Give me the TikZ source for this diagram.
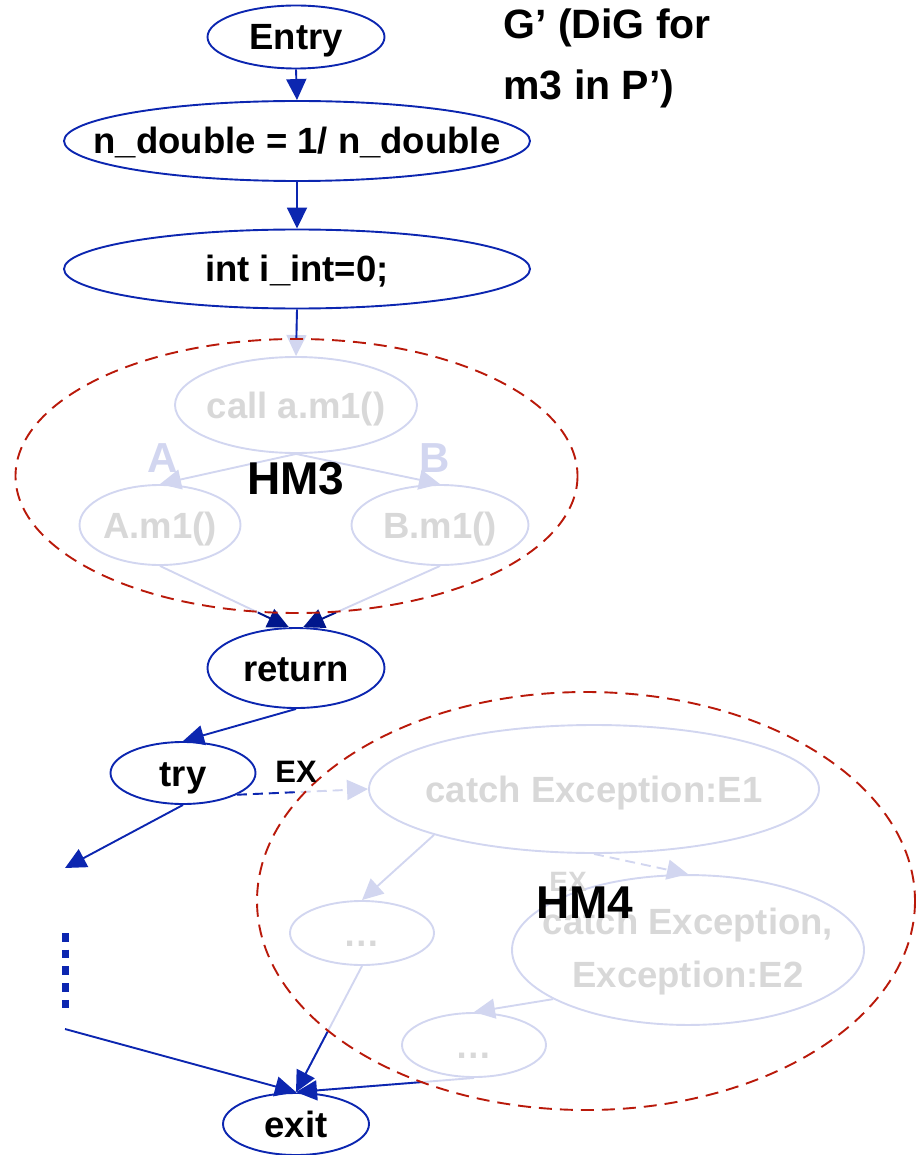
\documentclass[tikz,border=0pt]{standalone}
\usepackage{fontspec}
\setmainfont{Liberation Sans}
\usetikzlibrary{shapes.geometric,arrows.meta,calc}

\definecolor{lineblue}{RGB}{12,38,176}
\definecolor{navyblue}{RGB}{0,22,140}
\definecolor{paleline}{RGB}{210,214,240}
\definecolor{paletext}{RGB}{216,216,216}
\definecolor{hmred}{RGB}{185,25,10}

\begin{document}
\begin{tikzpicture}[x=1pt,y=-1pt,
  bigtext/.style={font=\fontsize{36.5}{53}\selectfont\bfseries},
  capline/.style={text height=26pt, text depth=0pt},
  stmtnode/.style={ellipse, draw=lineblue, line width=1.9pt, inner sep=0pt, bigtext, capline},
  ghostbase/.style={ellipse, draw=paleline, line width=1.9pt, inner sep=0pt, bigtext, text=paletext},
  ghostnode/.style={ghostbase, capline},
  tipshape/.style={-{Triangle[length=21pt,width=20pt]}},
  flowarrow/.style={draw=lineblue, line width=1.9pt, tipshape},
  navyarrow/.style={draw=navyblue, line width=1.9pt, tipshape},
  blueseg/.style={draw=lineblue, line width=1.9pt},
  ghostarrow/.style={draw=paleline, line width=1.9pt, tipshape},
  ghostline/.style={draw=paleline, line width=1.9pt},
  exdash/.style={dash pattern=on 10pt off 6pt},
  hmring/.style={draw=hmred, line width=1.9pt, dash pattern=on 13pt off 8pt},
  hmlabel/.style={anchor=base, font=\fontsize{46}{50}\selectfont\bfseries},
  caselabel/.style={anchor=base, font=\fontsize{42}{46}\selectfont\bfseries, text=paleline},
  titletext/.style={anchor=base west, font=\fontsize{41}{46}\selectfont\bfseries}
]
\useasboundingbox (0,0) rectangle (923,1155);

% ---- statements of m3 ----
\node[stmtnode, minimum width=177pt, minimum height=63pt] (entry) at (296,37) {\makebox[0pt]{Entry}};
\node[stmtnode, minimum width=466pt, minimum height=80pt] (nd) at (297,141) {\makebox[0pt]{n\_double = 1/ n\_double}};
\node[stmtnode, minimum width=466pt, minimum height=79pt] (int) at (297,269) {\makebox[0pt]{int i\_int=0;}};
\node[stmtnode, minimum width=177pt, minimum height=80pt] (ret) at (296,668) {\makebox[0pt]{return}};
\node[stmtnode, minimum width=145pt, minimum height=62pt] (try) at (183,773) {\makebox[0pt]{try}};
\node[stmtnode, minimum width=146pt, minimum height=62pt] (exit) at (296,1124) {\makebox[0pt]{exit}};

% ---- hidden part HM3 ----
\node[ghostnode, minimum width=242pt, minimum height=96pt] (call) at (296,405) {\makebox[0pt]{call a.m1()}};
\node[ghostnode, minimum width=161pt, minimum height=80pt] (am) at (160,525) {\makebox[0pt]{A.m1()}};
\node[ghostnode, minimum width=177pt, minimum height=80pt] (bm) at (440,525) {\makebox[0pt]{B.m1()}};
\node[caselabel] (la) at (163,472) {A};
\node[caselabel] (lb) at (435,472) {B};

% ---- hidden part HM4 ----
\node[ghostnode, minimum width=450pt, minimum height=128pt] (ce1) at (594,789) {\makebox[0pt]{catch Exception:E1}};
\node[ghostnode, minimum width=144pt, minimum height=64pt] (dots1) at (362,933) {\makebox[0pt]{…}};
\node[ghostbase, minimum width=352pt, minimum height=128pt] (ce2) at (688,950)
  {\makebox[0pt]{\begin{tabular}{@{}c@{}}catch Exception,\\Exception:E2\end{tabular}}};
\node[ghostnode, minimum width=144pt, minimum height=64pt] (dots2) at (474,1045) {\makebox[0pt]{…}};
\node[anchor=base, font=\fontsize{28}{30}\selectfont\bfseries, text=paletext] (exin) at (568,891) {EX};

% ---- free ends of the elided path ----
\coordinate (tryout) at (65,868);
\coordinate (dtop) at (65,933);
\coordinate (dbot) at (65,1010);
\coordinate (lin) at (65,1029);

% ---- edges inside the hidden parts ----
\draw[ghostarrow] (int.south) -- (call.north);
\draw[ghostarrow] (call.south) -- (am.north);
\draw[ghostarrow] (call.south) -- (bm.north);
\draw[ghostline] (am.south) -- (ret.100);
\draw[ghostline] (bm.south) -- (ret.80);
\draw[ghostarrow, exdash] (try.-22) -- (ce1.west);
\draw[ghostarrow] (ce1.196) -- (dots1.north);
\draw[ghostarrow, exdash] (ce1.south) -- (ce2.north);
\draw[ghostarrow] (ce2.200) -- (dots2.north);
\draw[ghostline] (dots1.south) -- (exit.north);
\draw[ghostline] (dots2.south) -- (exit.north);

% ---- crossing points on the hidden-part borders ----
\coordinate (xin) at ($(int.south)!0.65!(call.north)$);
\coordinate (xa) at ($(am.south)!0.76!(ret.100)$);
\coordinate (xb) at ($(bm.south)!0.76!(ret.80)$);
\coordinate (xex) at ($(try.-22)!0.48!(ce1.west)$);
\coordinate (xd1) at ($(dots1.south)!0.52!(exit.north)$);
\coordinate (xd2) at ($(dots2.south)!0.29!(exit.north)$);

% ---- visible edges ----
\draw[flowarrow] (entry.south) -- (nd.north);
\draw[flowarrow] (nd.south) -- (int.north);
\draw[blueseg] (int.south) -- (xin);
\draw[navyarrow] (xa) -- (ret.100);
\draw[navyarrow] (xb) -- (ret.80);
\draw[flowarrow] (ret.south) -- (try.north);
\draw[blueseg, exdash] (try.-22) -- (xex);
\draw[flowarrow] (try.south) -- (tryout);
\draw[draw=lineblue, line width=7pt, dash pattern=on 8.5pt off 8.2pt] (dtop) -- (dbot);
\draw[flowarrow] (lin) -- (exit.north);
\draw[flowarrow] (xd1) -- (exit.north);
\draw[flowarrow] (xd2) -- (exit.north);

% ---- hidden-part borders ----
\draw[hmring] (296.5,476) ellipse [x radius=281, y radius=137];
\draw[hmring] (586,901) ellipse [x radius=329, y radius=209];

% ---- labels ----
\node[hmlabel] (hm3) at (296,494) {HM3};
\node[hmlabel] (hm4) at (585,918) {HM4};
\node[anchor=base, font=\fontsize{31}{33}\selectfont\bfseries] (ex) at (296,782) {EX};
\node[titletext] (title1) at (500,39) {G’ (DiG for};
\node[titletext] (title2) at (500,100) {m3 in P’)};
\end{tikzpicture}
\end{document}
